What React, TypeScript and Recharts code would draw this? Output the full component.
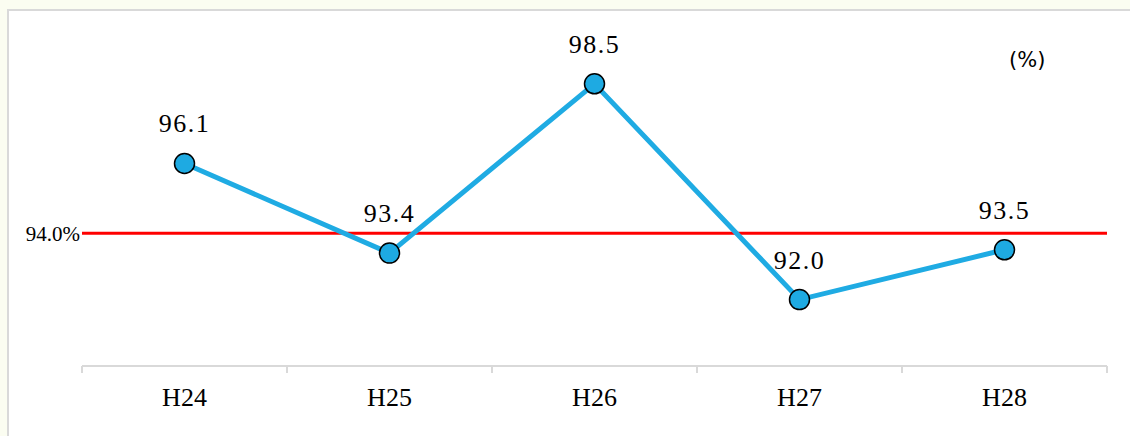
import { LineChart, Line, XAxis, YAxis, ReferenceLine, LabelList } from "recharts";

const categories = ["H24", "H25", "H26", "H27", "H28"];
const rates = [96.1, 93.4, 98.5, 92.0, 93.5];
const target = 94.0;

const data = categories.map((name, i) => ({ name, rate: rates[i] }));

const W = 1130;
const H = 436;
const margin = { top: 34, right: 23, bottom: 20, left: 82 };
const step = (W - margin.left - margin.right) / categories.length;

const serif = "'Liberation Serif', 'DejaVu Serif', serif";

const AxisTick = (props: any) => {
  const { x, y, payload, index } = props;
  const last = index === categories.length - 1;
  return (
    <g>
      <line x1={x - step / 2} y1={y} x2={x - step / 2} y2={y + 7} stroke="#d9d9d9" strokeWidth={2} />
      {last && <line x1={x + step / 2} y1={y} x2={x + step / 2} y2={y + 7} stroke="#d9d9d9" strokeWidth={2} />}
      <text x={x} y={y + 40} textAnchor="middle" fontFamily={serif} fontSize={26} fill="#000">
        {payload.value}
      </text>
    </g>
  );
};

export default function App() {
  return (
    <div style={{ position: "absolute", left: 0, top: 0, width: W, height: H, background: "#fbfdf1", overflow: "hidden" }}>
      <div
        style={{
          position: "absolute",
          left: 7,
          top: 9,
          right: 0,
          bottom: 0,
          background: "#fff",
          borderLeft: "2px solid #d9d9d9",
          borderTop: "2px solid #d9d9d9",
        }}
      />
      <div style={{ position: "absolute", left: 0, top: 0 }}>
        <LineChart width={W} height={H} data={data} margin={margin}>
          <XAxis
            dataKey="name"
            height={50}
            padding={{ left: step / 2, right: step / 2 }}
            axisLine={{ stroke: "#d9d9d9", strokeWidth: 2 }}
            tickLine={false}
            tickSize={0}
            tickMargin={0}
            tick={<AxisTick />}
            interval={0}
          />
          <YAxis hide width={0} domain={[90, 100]} />
          <ReferenceLine
            y={target}
            stroke="#ff0000"
            strokeWidth={3}
            label={{ value: target.toFixed(1) + "%", position: "left", offset: 2, fill: "#000", fontSize: 21, fontFamily: serif }}
          />
          <Line
            type="linear"
            dataKey="rate"
            stroke="#1fabe3"
            strokeWidth={5}
            dot={{ r: 10, fill: "#1eaae2", stroke: "#000", strokeWidth: 1.5 }}
            isAnimationActive={false}
          >
            <LabelList
              dataKey="rate"
              position="top"
              offset={31}
              formatter={(v: any) => Number(v).toFixed(1)}
              style={{ fill: "#000", fontSize: 26, fontFamily: serif, letterSpacing: 1.5 }}
            />
          </Line>
        </LineChart>
      </div>
      <div
        style={{
          position: "absolute",
          left: 1009,
          top: 48,
          fontFamily: "'DejaVu Sans', sans-serif",
          fontSize: 21,
          color: "#000",
        }}
      >
        (%)
      </div>
    </div>
  );
}
